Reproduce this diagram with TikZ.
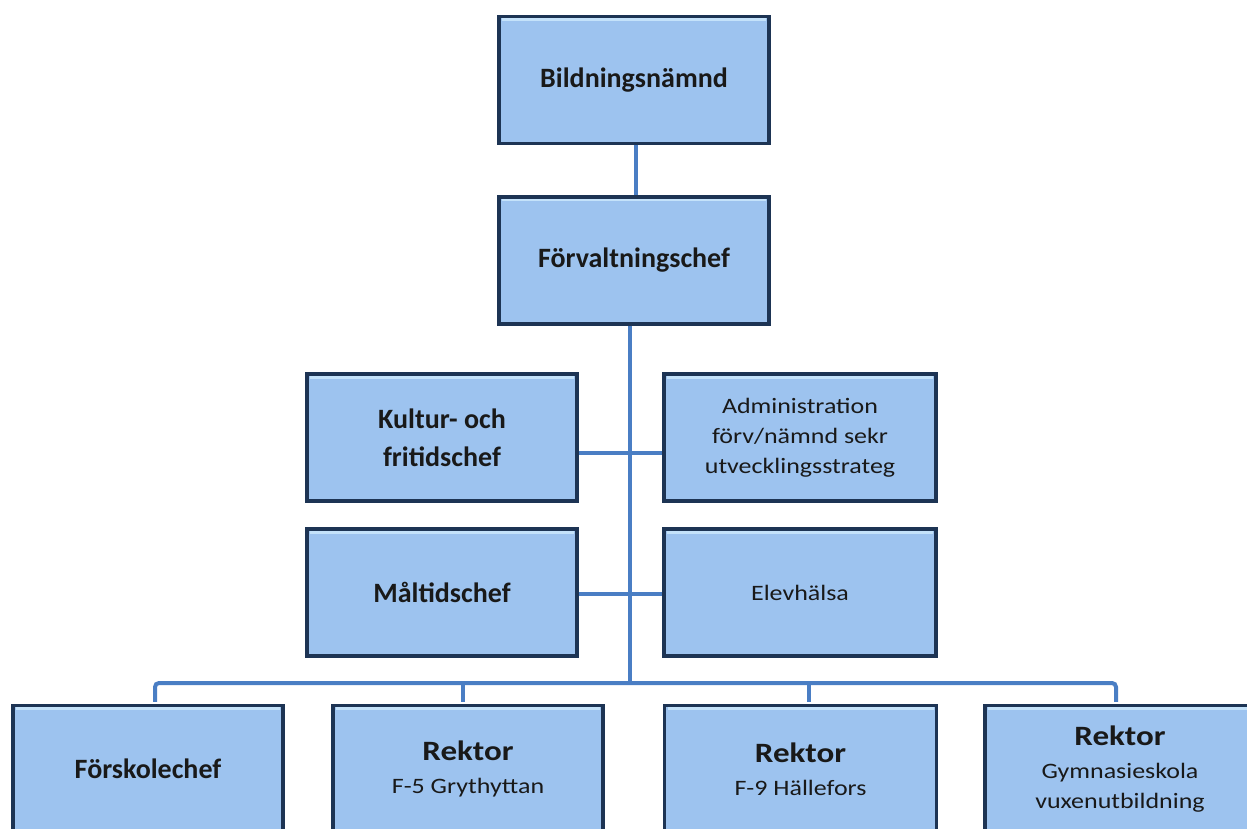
\documentclass[tikz,border=0pt]{standalone}
\usepackage{fontspec}
\setmainfont{Carlito}
\newfontfamily\widefont[FakeStretch=1.18]{Carlito}
\usetikzlibrary{calc}
\definecolor{boxfill}{HTML}{9DC3EF}
\definecolor{boxedge}{HTML}{1D3454}
\definecolor{boxhi}{HTML}{C4E2FA}
\definecolor{linkblue}{HTML}{4A7EC4}
\tikzset{
  orgbox/.style={draw=boxedge, line width=3.2pt, fill=boxfill,
    minimum width=270pt, minimum height=127pt, inner sep=0pt, align=center,
    text=black!90,
    path picture={
      \draw[boxhi, line width=3pt]
        ([xshift=3pt,yshift=-3pt]path picture bounding box.north west) --
        ([xshift=-3pt,yshift=-3pt]path picture bounding box.north east);
    }},
  ttl/.style={font=\fontsize{28}{38}\selectfont\bfseries},
  subt/.style={font=\widefont\fontsize{22}{30}\selectfont},
  link/.style={draw=linkblue, line width=4pt, rounded corners=4pt}
}
\newcommand{\rk}{{\fontsize{28}{30}\selectfont\bfseries Rektor}}
\begin{document}
\begin{tikzpicture}[x=1pt,y=-1pt]
\useasboundingbox (0,0) rectangle (1247,829);
\fill[white] (0,0) rectangle (1247,829);
\clip (0,0) rectangle (1247,829);

\node[orgbox, ttl] (bn) at (634,80) {Bildningsnämnd};
\node[orgbox, ttl] (fc) at (634,260.5) {Förvaltningschef};
\node[orgbox, ttl] (kf) at (442,437.5) {Kultur- och\\fritidschef};
\node[orgbox, subt, minimum width=272pt] (ad) at (800,437.5) {Administration\\förv/nämnd sekr\\utvecklingsstrateg};
\node[orgbox, ttl] (mc) at (442,592.5) {Måltidschef};
\node[orgbox, subt, minimum width=272pt] (eh) at (800,592.5) {Elevhälsa};
\node[orgbox, ttl] (fs) at (148,769) {Förskolechef};
\node[orgbox, subt] (r5) at (468,769) {\rk\\[3pt]F-5 Grythyttan};
\node[orgbox, subt, minimum width=272pt] (r9) at (800.5,769) {\rk\\[3pt]F-9 Hällefors};
\node[orgbox, subt] (rg) at (1120,769) {\rk\\[3pt]Gymnasieskola\\vuxenutbildning};

\coordinate (bus) at (630,683);
\coordinate (row1) at (630,453);
\coordinate (row2) at (630,594);

\draw[link] ([xshift=2pt]bn.south) -- ([xshift=2pt]fc.north);
\draw[link] ([xshift=-4pt]fc.south) -- (bus);
\draw[link] (kf.east |- row1) -- (ad.west |- row1);
\draw[link] (mc.east |- row2) -- (eh.west |- row2);
\draw[link] ([xshift=7pt,yshift=2pt]fs.north) |- (bus) -| ([xshift=-4pt,yshift=2pt]rg.north);
\draw[link] ([xshift=-5pt,yshift=2pt]r5.north) -- ([xshift=-5pt]r5.north |- bus);
\draw[link] ([xshift=8.5pt,yshift=2pt]r9.north) -- ([xshift=8.5pt]r9.north |- bus);
\end{tikzpicture}
\end{document}
